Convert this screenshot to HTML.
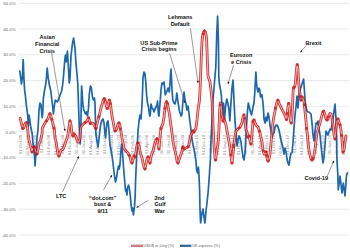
<!DOCTYPE html>
<html><head><meta charset="utf-8"><style>
html,body{margin:0;padding:0;background:#fff;}
body{width:350px;height:250px;overflow:hidden;}
svg{display:block;}
text{font-family:"Liberation Sans",sans-serif;}
.yl{font-size:4.4px;fill:#666;}
.xl{font-size:4.4px;fill:#8c8c8c;}
.an{font-size:5.6px;font-weight:bold;fill:#111;}
.lg{font-size:4.0px;fill:#666;}
</style></head><body>
<svg width="350" height="250" viewBox="0 0 350 250"><line x1="19" y1="3.30" x2="349" y2="3.30" stroke="#eaeaea" stroke-width="1"/><line x1="19" y1="29.04" x2="349" y2="29.04" stroke="#eaeaea" stroke-width="1"/><line x1="19" y1="54.78" x2="349" y2="54.78" stroke="#eaeaea" stroke-width="1"/><line x1="19" y1="80.52" x2="349" y2="80.52" stroke="#eaeaea" stroke-width="1"/><line x1="19" y1="106.26" x2="349" y2="106.26" stroke="#eaeaea" stroke-width="1"/><line x1="19" y1="132.00" x2="349" y2="132.00" stroke="#eaeaea" stroke-width="1"/><line x1="19" y1="157.74" x2="349" y2="157.74" stroke="#eaeaea" stroke-width="1"/><line x1="19" y1="183.48" x2="349" y2="183.48" stroke="#eaeaea" stroke-width="1"/><line x1="19" y1="209.22" x2="349" y2="209.22" stroke="#eaeaea" stroke-width="1"/><line x1="19" y1="234.96" x2="349" y2="234.96" stroke="#eaeaea" stroke-width="1"/><text x="15.6" y="5.00" text-anchor="end" class="yl">50.0%</text><text x="15.6" y="30.74" text-anchor="end" class="yl">40.0%</text><text x="15.6" y="56.48" text-anchor="end" class="yl">30.0%</text><text x="15.6" y="82.22" text-anchor="end" class="yl">20.0%</text><text x="15.6" y="107.96" text-anchor="end" class="yl">10.0%</text><text x="15.6" y="133.70" text-anchor="end" class="yl">0.0%</text><text x="15.6" y="159.44" text-anchor="end" class="yl">-10.0%</text><text x="15.6" y="185.18" text-anchor="end" class="yl">-20.0%</text><text x="15.6" y="210.92" text-anchor="end" class="yl">-30.0%</text><text x="15.6" y="236.66" text-anchor="end" class="yl">-40.0%</text><text transform="translate(21.90,134.8) rotate(-90)" text-anchor="end" class="xl">01-Oct-95</text><text transform="translate(28.93,134.8) rotate(-90)" text-anchor="end" class="xl">01-May-96</text><text transform="translate(35.96,134.8) rotate(-90)" text-anchor="end" class="xl">01-Dec-96</text><text transform="translate(42.99,134.8) rotate(-90)" text-anchor="end" class="xl">01-Jul-97</text><text transform="translate(50.02,134.8) rotate(-90)" text-anchor="end" class="xl">01-Feb-98</text><text transform="translate(57.05,134.8) rotate(-90)" text-anchor="end" class="xl">01-Sep-98</text><text transform="translate(64.08,134.8) rotate(-90)" text-anchor="end" class="xl">01-Apr-99</text><text transform="translate(71.11,134.8) rotate(-90)" text-anchor="end" class="xl">01-Nov-99</text><text transform="translate(78.14,134.8) rotate(-90)" text-anchor="end" class="xl">01-Jun-00</text><text transform="translate(85.17,134.8) rotate(-90)" text-anchor="end" class="xl">01-Jan-01</text><text transform="translate(92.20,134.8) rotate(-90)" text-anchor="end" class="xl">01-Aug-01</text><text transform="translate(99.23,134.8) rotate(-90)" text-anchor="end" class="xl">01-Mar-02</text><text transform="translate(106.26,134.8) rotate(-90)" text-anchor="end" class="xl">01-Oct-02</text><text transform="translate(113.29,134.8) rotate(-90)" text-anchor="end" class="xl">01-May-03</text><text transform="translate(120.32,134.8) rotate(-90)" text-anchor="end" class="xl">01-Dec-03</text><text transform="translate(127.35,134.8) rotate(-90)" text-anchor="end" class="xl">01-Jul-04</text><text transform="translate(134.38,134.8) rotate(-90)" text-anchor="end" class="xl">01-Feb-05</text><text transform="translate(141.41,134.8) rotate(-90)" text-anchor="end" class="xl">01-Sep-05</text><text transform="translate(148.44,134.8) rotate(-90)" text-anchor="end" class="xl">01-Apr-06</text><text transform="translate(155.47,134.8) rotate(-90)" text-anchor="end" class="xl">01-Nov-06</text><text transform="translate(162.50,134.8) rotate(-90)" text-anchor="end" class="xl">01-Jun-07</text><text transform="translate(169.53,134.8) rotate(-90)" text-anchor="end" class="xl">01-Jan-08</text><text transform="translate(176.56,134.8) rotate(-90)" text-anchor="end" class="xl">01-Aug-08</text><text transform="translate(183.59,134.8) rotate(-90)" text-anchor="end" class="xl">01-Mar-09</text><text transform="translate(190.62,134.8) rotate(-90)" text-anchor="end" class="xl">01-Oct-09</text><text transform="translate(197.65,134.8) rotate(-90)" text-anchor="end" class="xl">01-May-10</text><text transform="translate(204.68,134.8) rotate(-90)" text-anchor="end" class="xl">01-Dec-10</text><text transform="translate(211.71,134.8) rotate(-90)" text-anchor="end" class="xl">01-Jul-11</text><text transform="translate(218.74,134.8) rotate(-90)" text-anchor="end" class="xl">01-Feb-12</text><text transform="translate(225.77,134.8) rotate(-90)" text-anchor="end" class="xl">01-Sep-12</text><text transform="translate(232.80,134.8) rotate(-90)" text-anchor="end" class="xl">01-Apr-13</text><text transform="translate(239.83,134.8) rotate(-90)" text-anchor="end" class="xl">01-Nov-13</text><text transform="translate(246.86,134.8) rotate(-90)" text-anchor="end" class="xl">01-Jun-14</text><text transform="translate(253.89,134.8) rotate(-90)" text-anchor="end" class="xl">01-Jan-15</text><text transform="translate(260.92,134.8) rotate(-90)" text-anchor="end" class="xl">01-Aug-15</text><text transform="translate(267.95,134.8) rotate(-90)" text-anchor="end" class="xl">01-Mar-16</text><text transform="translate(274.98,134.8) rotate(-90)" text-anchor="end" class="xl">01-Oct-16</text><text transform="translate(282.01,134.8) rotate(-90)" text-anchor="end" class="xl">01-May-17</text><text transform="translate(289.04,134.8) rotate(-90)" text-anchor="end" class="xl">01-Dec-17</text><text transform="translate(296.07,134.8) rotate(-90)" text-anchor="end" class="xl">01-Jul-18</text><text transform="translate(303.10,134.8) rotate(-90)" text-anchor="end" class="xl">01-Feb-19</text><text transform="translate(310.13,134.8) rotate(-90)" text-anchor="end" class="xl">01-Sep-19</text><text transform="translate(317.16,134.8) rotate(-90)" text-anchor="end" class="xl">01-Apr-20</text><text transform="translate(324.19,134.8) rotate(-90)" text-anchor="end" class="xl">01-Nov-20</text><text transform="translate(331.22,134.8) rotate(-90)" text-anchor="end" class="xl">01-Jun-21</text><text transform="translate(338.25,134.8) rotate(-90)" text-anchor="end" class="xl">01-Jan-22</text><text transform="translate(345.28,134.8) rotate(-90)" text-anchor="end" class="xl">01-Aug-22</text><polyline points="19.8,71 21,80 21.4,84 22.4,78 23.2,59.5 24,80 24.6,90 25.4,96 26.2,104 27,110 27.8,116 28.3,126 28.9,115 29.6,118 30.4,125 31.2,129 32.2,134 33,144 34,150 34.6,158 35,166 35.6,158 36.5,146 37.2,136 38,130 38.5,120 39,110 40,103 41,105 41.6,112 42.2,117.6 42.8,112 43.4,98 44.6,90 45.6,85 46.4,78 47.2,68 48.2,78 49.4,85 50.6,90 51.6,98 52.6,106 53.4,114 54.4,105 55.4,100 56.4,101 57.4,102 58.6,99 60,95 61.4,92 62.2,88 63,82 63.6,75 64.6,62 65.4,55 66.2,62 67.4,51 68.6,70 69.2,83 70,78 71,56 72.4,44 73.6,38 75,48 76,64 77,74 77.8,84 78.2,96 78.7,110 79.2,125 79.7,138 80.2,144 80.6,136 80.9,126 81.1,112 81.3,100 81.6,86 82.1,92 82.8,104 83.8,110 85.5,114 86.5,112 87.5,116 88.5,108 89.2,95 90.4,86 91.4,88 92.4,97 93.4,100 94.4,98 95,103 95.3,115 95.6,127 96,135 97,141 98,147 99,139 100,129 101,123 102,120 103,119 104,123 105,134 105.6,138 106.2,130 107,123 108,121 108.8,128 109.4,137 110,145 111,150 112,156 113,163 114,172 114.8,178 115.5,182 116.5,178 117.5,171 118.5,166 119.2,169 120,164 121,150 121.6,144 122.6,154 123.4,165 124,173 124.6,180 125,184 125.5,191 126,189 127,195 127.5,188 128.5,185 129.3,188 130,193 130.5,198 131.1,205 132,210.8 132.6,208 133.4,215 134.5,206.5 135.2,195 135.6,180 136,171 137,150 138,131 139,121 140,115 141,119 142,105 142.6,90 143,78 144,72 145,74 146,85 146.6,95 147.5,103 148.5,107 149.5,115 150,116 150.5,112 151,104 152,108 153,109 154,112 155,109 156,107 157,105 157.5,101 158.5,115 159,116 159.5,110 160,103 160.5,97 161,90 162,83 163,84 164,82 164.6,88 165.3,95 166.2,93 167,91 168,88 168.6,89 169.2,92 170,84 170.5,74 171,69 171.5,78 172,90 172.8,100 174,103 175,104 176,100 176.8,93 177.5,98 178.5,105 179.4,111 181,116 182,114 183,100 184,92 185,100 186,104 187,110 188,106 189,114 190,122 191,130 192,139 193,145 194,149 195,155 196,161 196.6,170 197.6,173 198.4,167 199,175 199.6,190 200,209 200.6,223 202,213 203,209 204,217 205,223 206,211 207,203 208,193 209,181 209.6,171 210.4,160 211,140 212,120 213,100 214,88 215,76 215.8,67 216.8,33 217.6,16 218.4,40 218.8,76 219.4,84 220.6,90 221.4,96 222.5,117 223.4,103 224.6,118 225.6,106 226.8,99 228,104 229,110 229.8,121 230.6,108 231.4,97 232,88 233,80 234,100 235,121 236,135 237,146 238,140 239,136 240,138 241,142 242,150 243,157 244,160 245,153 246,135 246.8,121 247.6,110 248.3,103 249.3,107 250.5,112 251.5,115 252.3,111 253.2,106 254,103 254.8,92 255.9,72 256.6,84 257.2,89 258,92 259,88 259.8,90 260.5,97 261.9,94.6 263,103 263.6,111 264,119 265,123 266,117 267,121 268,113 269,117 270,125 271,131 272,137 273,134 274,133 275,127 276,125 277,125 278,127 279,130 280,135 281,140 282,144 283,148 284,154 285,148 286,152 287,159 288,163 289,165 290,158 291,153 292,153 293,143 294,128 295,115 296,107 297,96 298,108 299,95 300,90 302,84 303.6,79 304.4,90 305,100 306,107 307,111 308,112 309,112 310,113 311,114 312,123 313,135 314,141 315,131 316,123 317,124 318,121 319,129 320,135 321,145 322,155 323,163 324,157 325,145 326,131 327,133 328,135 329,132 330,129 331,130 332,125 333,119 334,111 335,104 336,119 336.6,140 337,160 337.8,174 338.3,190 340,176 342,193 343.3,183 345,196 346.5,175 347.5,173" fill="none" stroke="#1c67ad" stroke-width="1.7" stroke-linejoin="round" stroke-linecap="round"/><g opacity="0.82"><polyline points="20.2,118.4 21,122 21.8,125.2 22.8,128.5 23.6,128 24.5,125 25.4,123.2 26.6,122.8 27.4,127 28.2,134 28.8,138 29,140 30,144 31,148 32,152 33,148 34,147 35,149 36,152 37,154 38,150 39,144 40.6,140 42,134 42.4,128 44,124.8 46,121.5 48,118.4 49.2,115 50,113.8 50.8,115.5 52,120 53.2,124.8 54.4,130 55,138 56,142 57,148 58,154 59,156 60,153 61,150 62,150 63,149 64,147 65,144 66,141 67,138 68,134 69,127 70,121 71,125 72,134 73,136 74,134 75,135 76,137 77,140 78,142 79,142 80,138 80.5,130 81,127 82.5,125 84.6,122.8 86.8,121.4 88.6,118 89.5,121 90.4,123.5 91.8,122.8 93.3,123.5 94.7,126.4 96,128.5 97.5,122 99,116.3 99.8,113 100.5,110 101.5,106 102.5,103 103.5,99.5 104.3,98.6 105.3,101 106.3,106 107.3,108.5 108.3,103 109.4,100.2 110.4,104 111.2,110 112,116 113,121 114,127 115,131 116,130 117,128 118,124 119,123 120,126 121,132 122,138 123,143 124,148 125,150 126,151 128,153 129,155 130,157 131,161 132,163 133,160 134,156 135,157 136,152 137,145 138,143 139,146 140,151 141,155 142,158 143,163 144,167 145,169 146,164 147,159 148,157 149,160 150,163 151,157 152,153 153,151 154,147 155,143 156,140 157,139 158,144 159,149 160,137 161,128 162,126 163,123 164,117 165,108 165.8,103 166.6,101.8 167.5,104 168.3,108 169.2,113 170,118 171,126 172,133 173,141 174,147 175,151 176,155 177,161 178,163 179,160 180,157 182,151 183,147 184,149 186,148 188,147 189,144 190,139 191,135 192,133 193,131 194,132 196,128 197,120 198,110 199.5,100 200.5,80 201,65 201.6,50 202,42 202.6,36 203.5,32.3 204.5,31 205.5,32.3 206.3,36 206.7,42 207,50 207.3,60 208,76 210,82 211,90 212,100 212.6,110 213,125 214,146 215,158 215.6,160 216.4,154 217.6,146 218.4,140 219,128 219.6,111 220.4,103 221,103 222,115 223,121 224,119 225,122 226,125 227,131 228,136 229,142 230,148 231,156 232,163 233,154 234,144 235,136 236,131 238,129 240,127 242,123 243,117 244,115 245,121 246,130 247,132 248,137 249,136 250,141 251,144 252,134 253,121 254,120 255,123 256,125 258,127 260,133 262,142 263,150 264,154 265,154 266,152 267,158 268,161 269,159 270,154 271,143 272,132 273,122 274,116 275,111 276,106 277,102 277.9,100.3 279.4,104 280.5,106.5 282,109.3 283.3,112 284.6,114.4 285.6,117 286.5,119.6 287.2,115 288,107 288.7,103.5 289.3,108 289.8,115 290.5,121 291.2,123 292,117 292.6,105 293,93 293.5,88 294.5,87 295.3,84 296,75 296.6,68 297.2,64.8 297.8,68 298.3,76 298.9,85 299.7,92 300.5,97 301,100 302,97 303,99 304,101 305,111 306,121 306.6,129 307.4,135 308,143 309,150 310,155 311,159 312,160 313,159 314,155 315,149 316,141 317,133 318,130 319,126 320,123 321,119 322,115 323,112 323.6,111 324.5,113 325,115 326,119 327,120 328,119 329,115 330,113.5 331,114 332,118 333,125 333.5,130 334,135 335,139 336,129 337,121 338,119 339,122 340,125 341,130 342,140 343,152 344,150 345,142 346,136" fill="none" stroke="#cb0a0a" stroke-width="2.8" stroke-linejoin="round" stroke-linecap="round"/><polyline points="20.2,118.4 21,122 21.8,125.2 22.8,128.5 23.6,128 24.5,125 25.4,123.2 26.6,122.8 27.4,127 28.2,134 28.8,138 29,140 30,144 31,148 32,152 33,148 34,147 35,149 36,152 37,154 38,150 39,144 40.6,140 42,134 42.4,128 44,124.8 46,121.5 48,118.4 49.2,115 50,113.8 50.8,115.5 52,120 53.2,124.8 54.4,130 55,138 56,142 57,148 58,154 59,156 60,153 61,150 62,150 63,149 64,147 65,144 66,141 67,138 68,134 69,127 70,121 71,125 72,134 73,136 74,134 75,135 76,137 77,140 78,142 79,142 80,138 80.5,130 81,127 82.5,125 84.6,122.8 86.8,121.4 88.6,118 89.5,121 90.4,123.5 91.8,122.8 93.3,123.5 94.7,126.4 96,128.5 97.5,122 99,116.3 99.8,113 100.5,110 101.5,106 102.5,103 103.5,99.5 104.3,98.6 105.3,101 106.3,106 107.3,108.5 108.3,103 109.4,100.2 110.4,104 111.2,110 112,116 113,121 114,127 115,131 116,130 117,128 118,124 119,123 120,126 121,132 122,138 123,143 124,148 125,150 126,151 128,153 129,155 130,157 131,161 132,163 133,160 134,156 135,157 136,152 137,145 138,143 139,146 140,151 141,155 142,158 143,163 144,167 145,169 146,164 147,159 148,157 149,160 150,163 151,157 152,153 153,151 154,147 155,143 156,140 157,139 158,144 159,149 160,137 161,128 162,126 163,123 164,117 165,108 165.8,103 166.6,101.8 167.5,104 168.3,108 169.2,113 170,118 171,126 172,133 173,141 174,147 175,151 176,155 177,161 178,163 179,160 180,157 182,151 183,147 184,149 186,148 188,147 189,144 190,139 191,135 192,133 193,131 194,132 196,128 197,120 198,110 199.5,100 200.5,80 201,65 201.6,50 202,42 202.6,36 203.5,32.3 204.5,31 205.5,32.3 206.3,36 206.7,42 207,50 207.3,60 208,76 210,82 211,90 212,100 212.6,110 213,125 214,146 215,158 215.6,160 216.4,154 217.6,146 218.4,140 219,128 219.6,111 220.4,103 221,103 222,115 223,121 224,119 225,122 226,125 227,131 228,136 229,142 230,148 231,156 232,163 233,154 234,144 235,136 236,131 238,129 240,127 242,123 243,117 244,115 245,121 246,130 247,132 248,137 249,136 250,141 251,144 252,134 253,121 254,120 255,123 256,125 258,127 260,133 262,142 263,150 264,154 265,154 266,152 267,158 268,161 269,159 270,154 271,143 272,132 273,122 274,116 275,111 276,106 277,102 277.9,100.3 279.4,104 280.5,106.5 282,109.3 283.3,112 284.6,114.4 285.6,117 286.5,119.6 287.2,115 288,107 288.7,103.5 289.3,108 289.8,115 290.5,121 291.2,123 292,117 292.6,105 293,93 293.5,88 294.5,87 295.3,84 296,75 296.6,68 297.2,64.8 297.8,68 298.3,76 298.9,85 299.7,92 300.5,97 301,100 302,97 303,99 304,101 305,111 306,121 306.6,129 307.4,135 308,143 309,150 310,155 311,159 312,160 313,159 314,155 315,149 316,141 317,133 318,130 319,126 320,123 321,119 322,115 323,112 323.6,111 324.5,113 325,115 326,119 327,120 328,119 329,115 330,113.5 331,114 332,118 333,125 333.5,130 334,135 335,139 336,129 337,121 338,119 339,122 340,125 341,130 342,140 343,152 344,150 345,142 346,136" fill="none" stroke="#f0a8a8" stroke-width="1.0" stroke-linejoin="round" stroke-linecap="round"/><circle cx="26.6" cy="122.80" r="1.45" fill="#c80000"/><circle cx="32" cy="152.00" r="1.45" fill="#c80000"/><circle cx="34" cy="147.00" r="1.45" fill="#c80000"/><circle cx="37" cy="154.00" r="1.45" fill="#c80000"/><circle cx="50" cy="113.80" r="1.45" fill="#c80000"/><circle cx="59" cy="156.00" r="1.45" fill="#c80000"/><circle cx="70" cy="121.00" r="1.45" fill="#c80000"/><circle cx="73" cy="136.00" r="1.45" fill="#c80000"/><circle cx="74" cy="134.00" r="1.45" fill="#c80000"/><circle cx="88.6" cy="118.00" r="1.45" fill="#c80000"/><circle cx="90.4" cy="123.50" r="1.45" fill="#c80000"/><circle cx="96" cy="128.50" r="1.45" fill="#c80000"/><circle cx="104.3" cy="98.60" r="1.45" fill="#c80000"/><circle cx="107.3" cy="108.50" r="1.45" fill="#c80000"/><circle cx="109.4" cy="100.20" r="1.45" fill="#c80000"/><circle cx="115" cy="131.00" r="1.45" fill="#c80000"/><circle cx="119" cy="123.00" r="1.45" fill="#c80000"/><circle cx="132" cy="163.00" r="1.45" fill="#c80000"/><circle cx="134" cy="156.00" r="1.45" fill="#c80000"/><circle cx="135" cy="157.00" r="1.45" fill="#c80000"/><circle cx="138" cy="143.00" r="1.45" fill="#c80000"/><circle cx="145" cy="169.00" r="1.45" fill="#c80000"/><circle cx="148" cy="157.00" r="1.45" fill="#c80000"/><circle cx="150" cy="163.00" r="1.45" fill="#c80000"/><circle cx="157" cy="139.00" r="1.45" fill="#c80000"/><circle cx="159" cy="149.00" r="1.45" fill="#c80000"/><circle cx="166.6" cy="101.80" r="1.45" fill="#c80000"/><circle cx="178" cy="163.00" r="1.45" fill="#c80000"/><circle cx="183" cy="147.00" r="1.45" fill="#c80000"/><circle cx="184" cy="149.00" r="1.45" fill="#c80000"/><circle cx="193" cy="131.00" r="1.45" fill="#c80000"/><circle cx="194" cy="132.00" r="1.45" fill="#c80000"/><circle cx="204.5" cy="31.00" r="1.45" fill="#c80000"/><circle cx="215.6" cy="160.00" r="1.45" fill="#c80000"/><circle cx="223" cy="121.00" r="1.45" fill="#c80000"/><circle cx="224" cy="119.00" r="1.45" fill="#c80000"/><circle cx="232" cy="163.00" r="1.45" fill="#c80000"/><circle cx="244" cy="115.00" r="1.45" fill="#c80000"/><circle cx="248" cy="137.00" r="1.45" fill="#c80000"/><circle cx="249" cy="136.00" r="1.45" fill="#c80000"/><circle cx="251" cy="144.00" r="1.45" fill="#c80000"/><circle cx="254" cy="120.00" r="1.45" fill="#c80000"/><circle cx="266" cy="152.00" r="1.45" fill="#c80000"/><circle cx="268" cy="161.00" r="1.45" fill="#c80000"/><circle cx="277.9" cy="100.30" r="1.45" fill="#c80000"/><circle cx="286.5" cy="119.60" r="1.45" fill="#c80000"/><circle cx="288.7" cy="103.50" r="1.45" fill="#c80000"/><circle cx="291.2" cy="123.00" r="1.45" fill="#c80000"/><circle cx="297.2" cy="64.80" r="1.45" fill="#c80000"/><circle cx="301" cy="100.00" r="1.45" fill="#c80000"/><circle cx="302" cy="97.00" r="1.45" fill="#c80000"/><circle cx="312" cy="160.00" r="1.45" fill="#c80000"/><circle cx="327" cy="120.00" r="1.45" fill="#c80000"/><circle cx="335" cy="139.00" r="1.45" fill="#c80000"/><circle cx="338" cy="119.00" r="1.45" fill="#c80000"/><circle cx="343" cy="152.00" r="1.45" fill="#c80000"/><circle cx="22.80" cy="128.50" r="1.45" fill="#c80000"/><circle cx="34.00" cy="147.00" r="1.45" fill="#c80000"/><circle cx="46.39" cy="120.90" r="1.45" fill="#c80000"/><circle cx="51.87" cy="119.50" r="1.45" fill="#c80000"/><circle cx="53.99" cy="128.23" r="1.45" fill="#c80000"/><circle cx="85.31" cy="122.35" r="1.45" fill="#c80000"/><circle cx="90.40" cy="123.50" r="1.45" fill="#c80000"/><circle cx="98.88" cy="116.77" r="1.45" fill="#c80000"/><circle cx="104.90" cy="100.04" r="1.45" fill="#c80000"/><circle cx="110.26" cy="103.46" r="1.45" fill="#c80000"/><circle cx="120.49" cy="128.94" r="1.45" fill="#c80000"/><circle cx="129.20" cy="155.40" r="1.45" fill="#c80000"/><circle cx="157.00" cy="139.00" r="1.45" fill="#c80000"/><circle cx="160.93" cy="128.60" r="1.45" fill="#c80000"/><circle cx="164.96" cy="108.40" r="1.45" fill="#c80000"/><circle cx="167.19" cy="103.24" r="1.45" fill="#c80000"/><circle cx="182.82" cy="147.71" r="1.45" fill="#c80000"/><circle cx="188.05" cy="146.85" r="1.45" fill="#c80000"/><circle cx="220.20" cy="104.99" r="1.45" fill="#c80000"/><circle cx="224.00" cy="119.00" r="1.45" fill="#c80000"/><circle cx="230.86" cy="154.89" r="1.45" fill="#c80000"/><circle cx="233.72" cy="146.83" r="1.45" fill="#c80000"/><circle cx="233.89" cy="145.12" r="1.45" fill="#c80000"/><circle cx="239.10" cy="127.90" r="1.45" fill="#c80000"/><circle cx="244.57" cy="118.42" r="1.45" fill="#c80000"/><circle cx="252.94" cy="121.80" r="1.45" fill="#c80000"/><circle cx="259.44" cy="131.32" r="1.45" fill="#c80000"/><circle cx="263.15" cy="150.61" r="1.45" fill="#c80000"/><circle cx="266.58" cy="155.45" r="1.45" fill="#c80000"/><circle cx="275.56" cy="108.21" r="1.45" fill="#c80000"/><circle cx="287.35" cy="113.49" r="1.45" fill="#c80000"/><circle cx="294.05" cy="87.45" r="1.45" fill="#c80000"/><circle cx="300.44" cy="96.61" r="1.45" fill="#c80000"/><circle cx="304.37" cy="104.72" r="1.45" fill="#c80000"/><circle cx="313.11" cy="158.55" r="1.45" fill="#c80000"/><circle cx="323.17" cy="111.72" r="1.45" fill="#c80000"/><circle cx="328.54" cy="116.86" r="1.45" fill="#c80000"/><circle cx="340.00" cy="125.00" r="1.45" fill="#c80000"/><circle cx="341.54" cy="135.39" r="1.45" fill="#c80000"/><circle cx="203.07" cy="34.07" r="1.45" fill="#c80000"/><circle cx="293.55" cy="87.95" r="1.45" fill="#c80000"/><circle cx="306.56" cy="128.50" r="1.45" fill="#c80000"/></g><line x1="51.6" y1="53" x2="65" y2="131" stroke="#555" stroke-width="0.6"/><polygon points="65.00,131.00 63.54,129.02 65.71,128.65" fill="#111"/><line x1="62.4" y1="192.2" x2="78.8" y2="156.2" stroke="#555" stroke-width="0.6"/><polygon points="78.80,156.20 78.89,158.66 76.89,157.75" fill="#111"/><line x1="103.5" y1="190" x2="112" y2="175" stroke="#555" stroke-width="0.6"/><polygon points="112.00,175.00 111.87,177.46 109.96,176.37" fill="#111"/><line x1="148.1" y1="200.5" x2="136.5" y2="207.5" stroke="#555" stroke-width="0.6"/><polygon points="136.50,207.50 137.82,205.42 138.95,207.31" fill="#111"/><line x1="169.6" y1="53.5" x2="185" y2="103" stroke="#555" stroke-width="0.6"/><polygon points="185.00,103.00 183.30,101.23 185.40,100.57" fill="#111"/><line x1="190.4" y1="28.4" x2="198" y2="83" stroke="#555" stroke-width="0.6"/><polygon points="198.00,83.00 196.61,80.97 198.79,80.67" fill="#111"/><line x1="233.5" y1="65.2" x2="228" y2="84" stroke="#555" stroke-width="0.6"/><polygon points="228.00,84.00 227.56,81.58 229.67,82.20" fill="#111"/><line x1="306.2" y1="45.6" x2="300.4" y2="52.3" stroke="#555" stroke-width="0.6"/><polygon points="300.40,52.30 301.01,49.92 302.67,51.36" fill="#111"/><line x1="327.4" y1="175.9" x2="333.9" y2="160.7" stroke="#555" stroke-width="0.6"/><polygon points="333.90,160.70 334.05,163.16 332.02,162.29" fill="#111"/><text x="47.2" y="38.60" text-anchor="middle" class="an">Asian</text><text x="47.2" y="45.80" text-anchor="middle" class="an">Financial</text><text x="47.2" y="52.50" text-anchor="middle" class="an">Crisis</text><text x="61.2" y="198.40" text-anchor="middle" class="an">LTC</text><text x="102.7" y="199.50" text-anchor="middle" class="an">“dot.com”</text><text x="102.7" y="206.20" text-anchor="middle" class="an">bust &</text><text x="102.7" y="212.90" text-anchor="middle" class="an">9/11</text><text x="154.5" y="199.50" class="an">2nd</text><text x="154.5" y="206.20" class="an">Gulf</text><text x="154.5" y="212.90" class="an">War</text><text x="159" y="44.50" text-anchor="middle" class="an">US Sub-Prime</text><text x="159" y="51.00" text-anchor="middle" class="an">Crisis begins</text><text x="180.2" y="19.00" text-anchor="middle" class="an">Lehmans</text><text x="180.2" y="26.00" text-anchor="middle" class="an">Default</text><text x="241.2" y="56.50" text-anchor="middle" class="an">Eurozon</text><text x="241.2" y="64.00" text-anchor="middle" class="an">e Crisis</text><text x="313.4" y="44.60" text-anchor="middle" class="an">Brexit</text><text x="316.2" y="180.30" text-anchor="middle" class="an">Covid-19</text><line x1="131" y1="245.8" x2="143" y2="245.8" stroke="#c85a66" stroke-width="2.2"/><line x1="131" y1="245.8" x2="143" y2="245.8" stroke="#e8a0a8" stroke-width="0.7"/><text x="143.4" y="247.3" class="lg">USD$ in £stg (%)</text><line x1="180" y1="245.8" x2="191.4" y2="245.8" stroke="#2a64a0" stroke-width="2.2"/><text x="192.2" y="247.3" class="lg">UK equities (%)</text></svg>
</body></html>
